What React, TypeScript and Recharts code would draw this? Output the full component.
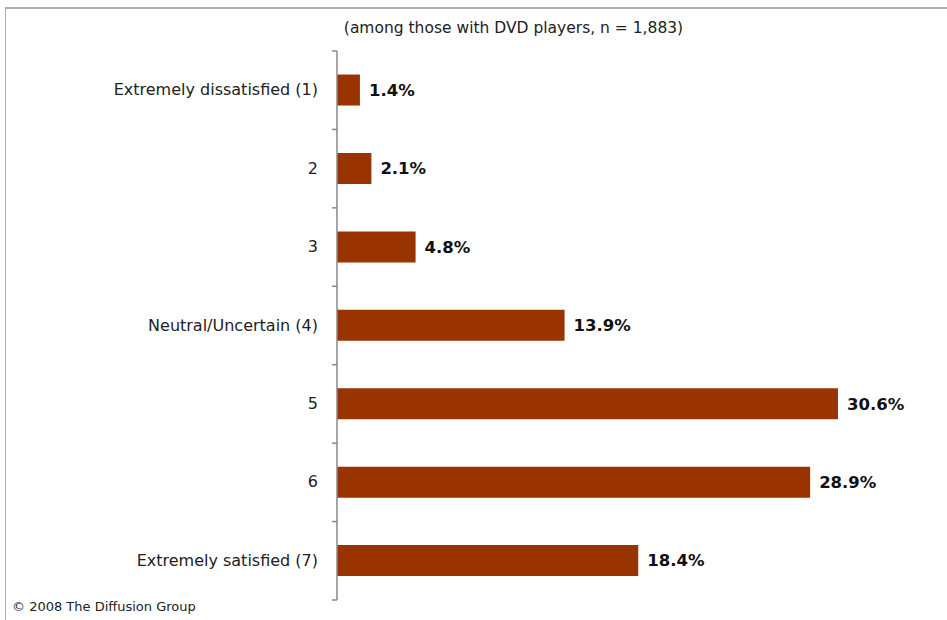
import React from 'react';
import { BarChart, Bar, XAxis, YAxis, LabelList } from 'recharts';

const categories = [
  'Extremely dissatisfied (1)',
  '2',
  '3',
  'Neutral/Uncertain (4)',
  '5',
  '6',
  'Extremely satisfied (7)',
];
const values = [1.4, 2.1, 4.8, 13.9, 30.6, 28.9, 18.4];
const subtitle = '(among those with DVD players, n = 1,883)';
const footer = '\u00A9 2008 The Diffusion Group';

const data = categories.map((c, i) => ({ name: c, value: values[i] }));

const FONT = '"DejaVu Sans", sans-serif';

const Tick = (props: any) => {
  const { x, y, payload, index } = props;
  const off = payload.offset || 0;
  return (
    <g>
      <text x={x - 11} y={y} dy={5} textAnchor="end" fontSize={16} fontFamily={FONT} fill="#222">
        {payload.value}
      </text>
      <line x1={x + 3} x2={x + 8} y1={y - off} y2={y - off} stroke="#888" strokeWidth={1.5} />
      {index === categories.length - 1 ? (
        <line x1={x + 3} x2={x + 8} y1={y + off} y2={y + off} stroke="#888" strokeWidth={1.5} />
      ) : null}
    </g>
  );
};

export default function App() {
  return (
    <div style={{ position: 'absolute', left: 0, top: 0, width: 947, height: 620, overflow: 'hidden', background: '#fff' }}>
      <div style={{ position: 'absolute', left: 5, top: 7, width: 1000, height: 700, borderTop: '2px solid #b0b0b0', borderLeft: '1px solid #b0b0b0' }} />
      <div style={{ position: 'absolute', left: 0, width: 1027, top: 19, textAlign: 'center', fontFamily: FONT, fontSize: 15.5, color: '#222' }}>
        {subtitle}
      </div>
      <div style={{ position: 'absolute', left: 12, top: 599, fontFamily: FONT, fontSize: 13, color: '#222' }}>
        {footer}
      </div>
      <div style={{ position: 'absolute', left: 0, top: 1 }}>
        <BarChart
          width={947}
          height={620}
          data={data}
          layout="vertical"
          margin={{ top: 50, right: 37, bottom: 21, left: 0 }}
          barCategoryGap="30%"
        >
          <XAxis type="number" domain={[0, 35]} hide />
          <YAxis
            type="category"
            dataKey="name"
            width={337}
            tickLine={false}
            axisLine={{ stroke: '#888', strokeWidth: 1.5 }}
            tick={<Tick />}
            interval={0}
          />
          <Bar dataKey="value" fill="#993300" isAnimationActive={false}>
            <LabelList
              dataKey="value"
              position="right"
              offset={9}
              formatter={(v: any) => `${Number(v).toFixed(1)}%`}
              style={{ fontFamily: FONT, fontSize: 16.5, fontWeight: 700, fill: '#111' }}
            />
          </Bar>
        </BarChart>
      </div>
    </div>
  );
}
